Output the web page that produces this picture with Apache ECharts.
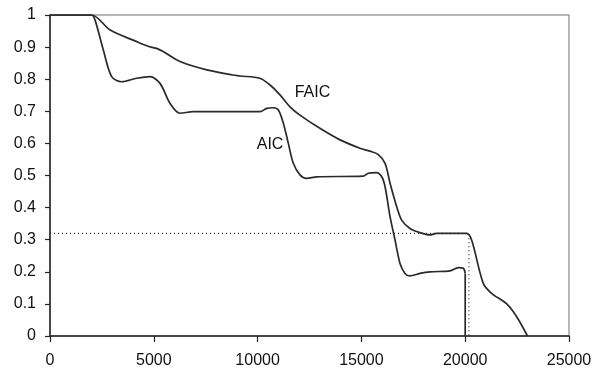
<!DOCTYPE html>
<html>
<head>
<meta charset="utf-8">
<script src="https://cdn.jsdelivr.net/npm/echarts@6/dist/echarts.min.js"></script>
<style>html,body{margin:0;padding:0;background:#fff;}#chart{width:595px;height:370px;}</style>
</head>
<body>
<div id="chart"></div>
<script>
// FAIC curve
const faicX = [0, 2000, 2900, 4180, 4800, 5140, 5450, 6260, 7550, 8800, 9150, 10100, 10600, 11080, 11560, 12040, 13000, 13970, 14930, 15410, 15800, 16140, 16380, 16700, 16940, 17340, 17820, 18300, 18630, 20070, 20310, 20870, 21270, 22000, 22480, 23000];
const faicY = [1, 1, 0.953, 0.917, 0.901, 0.896, 0.886, 0.855, 0.829, 0.813, 0.81, 0.803, 0.782, 0.751, 0.714, 0.688, 0.647, 0.611, 0.585, 0.576, 0.566, 0.538, 0.476, 0.403, 0.361, 0.335, 0.322, 0.315, 0.32, 0.32, 0.299, 0.164, 0.133, 0.1, 0.06, 0];
// AIC curve
const aicX = [0, 2000, 2170, 2570, 2970, 3450, 4180, 4820, 5300, 5780, 6260, 6900, 9150, 10120, 10440, 10760, 11000, 11240, 11480, 11720, 12040, 12360, 12850, 15090, 15330, 15730, 15980, 16140, 16380, 16620, 16860, 17100, 17340, 17820, 18300, 19270, 19670, 19910, 20000];
const aicY = [1, 1, 0.984, 0.891, 0.808, 0.792, 0.803, 0.808, 0.787, 0.725, 0.694, 0.699, 0.699, 0.699, 0.709, 0.711, 0.704, 0.663, 0.6, 0.538, 0.502, 0.491, 0.496, 0.498, 0.507, 0.509, 0.496, 0.465, 0.372, 0.299, 0.226, 0.195, 0.187, 0.195, 0.2, 0.203, 0.213, 0.211, 0.195];
// AIC final drop
const aicDropX = [20000, 20000];
const aicDropY = [0.195, 0];
// dotted reference lines
const refX = [0, 20180, 20180];
const refY = [0.32, 0.32, 0];
// annotations
const labelNames = ['FAIC', 'AIC'];
const labelX = [12640, 10600];
const labelY = [0.759, 0.597];
// axis ticks
const xTicks = [0, 5000, 10000, 15000, 20000, 25000];
const yTicks = [0, 0.1, 0.2, 0.3, 0.4, 0.5, 0.6, 0.7, 0.8, 0.9, 1];

const zip = (xs, ys) => xs.map((x, i) => [x, ys[i]]);
const font = '"Liberation Sans", Arial, sans-serif';
const lineCol = '#2a2a2a';

const chart = echarts.init(document.getElementById('chart'), null, {renderer: 'canvas'});
chart.setOption({
  animation: false,
  grid: {left: 50, right: 26, top: 15, bottom: 34, show: true, borderColor: '#a0a0a0', borderWidth: 1.5, backgroundColor: 'transparent'},
  xAxis: {
    type: 'value', min: xTicks[0], max: xTicks[xTicks.length - 1], interval: 5000,
    axisLine: {onZero: false, lineStyle: {color: '#222', width: 1.5}},
    axisTick: {show: true, length: 6, inside: false, lineStyle: {color: '#222', width: 1.2}},
    splitLine: {show: false},
    axisLabel: {color: '#111', fontSize: 16, fontFamily: font, margin: 17, formatter: v => String(v)}
  },
  yAxis: {
    type: 'value', min: yTicks[0], max: yTicks[yTicks.length - 1], interval: 0.1,
    axisLine: {show: true, onZero: false, lineStyle: {color: '#222', width: 1.5}},
    axisTick: {show: true, length: 5, lineStyle: {color: '#222', width: 1.2}},
    splitLine: {show: false},
    axisLabel: {color: '#111', fontSize: 16, fontFamily: font, margin: 14, formatter: v => String(Math.round(v * 10) / 10)}
  },
  series: [
    {
      name: 'FAIC', type: 'line', data: zip(faicX, faicY), smooth: 0.3, symbol: 'none',
      lineStyle: {color: lineCol, width: 1.7}, z: 3,
      markPoint: {
        symbol: 'circle', symbolSize: 0,
        label: {show: true, color: '#111', fontSize: 16, fontFamily: font, formatter: p => p.name, offset: [0, 0]},
        data: labelNames.map((n, i) => ({name: n, coord: [labelX[i], labelY[i]]}))
      }
    },
    {name: 'AIC', type: 'line', data: zip(aicX, aicY), smooth: 0.3, symbol: 'none', lineStyle: {color: lineCol, width: 1.7}, z: 3},
    {name: 'AICdrop', type: 'line', data: zip(aicDropX, aicDropY), symbol: 'none', lineStyle: {color: lineCol, width: 1.7}, z: 3},
    {name: 'ref', type: 'line', data: zip(refX, refY), symbol: 'none', lineStyle: {color: '#333', width: 1.2, type: [1, 3]}, z: 2}
  ]
});
</script>
</body>
</html>
